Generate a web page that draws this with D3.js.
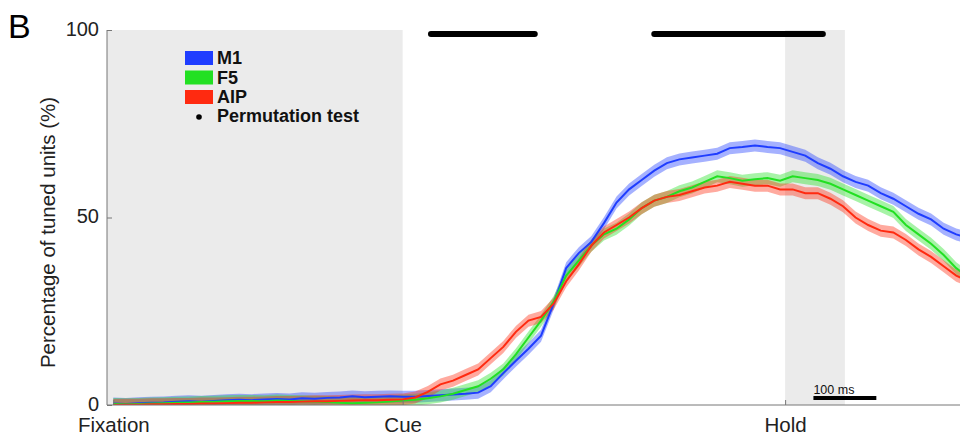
<!DOCTYPE html>
<html><head><meta charset="utf-8">
<script src="https://cdn.jsdelivr.net/npm/d3@7"></script>
<style>body{margin:0;background:#fff}svg{display:block;font-family:"Liberation Sans",Arial,Helvetica,sans-serif}</style>
</head><body><svg id="c" width="960" height="436"></svg>
<script>
// time in ms, sampled every 20 ms from Fixation (0)
const times = d3.range(0, 1361, 20);
const m1 = [0.4,0.3,0.5,0.6,0.7,0.9,1.0,0.9,1.1,1.3,1.4,1.3,1.5,1.6,1.5,1.8,1.7,1.9,2.0,2.3,2.1,2.2,2.3,
  2.2,2.2,2.4,2.6,2.8,3.0,3.3,5.0,8.5,11.8,15.0,18.5,27,36.5,40.5,43.5,48.5,54,57.5,60,62.5,64.5,65.5,66,66.5,67,68.5,68.8,69.2,68.8,68.5,67.5,66.5,64.5,63,61,59.5,58.5,56.5,55,53,51,49.5,47,45.5,44.5];
const f5 = [0.3,0.2,0.3,0.4,0.5,0.6,0.7,0.8,0.9,1.0,1.1,1.1,1.0,1.2,1.1,1.0,0.9,0.8,0.6,0.5,0.6,0.7,0.9,
  1.2,1.4,1.8,2.3,3.0,4.0,5.0,7.0,9.5,13.5,18.0,22.5,27.5,34.5,38.5,42.5,45.5,47,49.5,52.5,54.5,55.5,57,58,59.5,61,60.5,59.8,60.2,60.5,59.8,61,60.5,60,59,57.5,56,54.5,53,51.5,48,45.5,43,40,36.5,34];
const aip = [0,0.1,0.1,0.2,0.2,0.3,0.3,0.4,0.4,0.5,0.6,0.6,0.7,0.8,0.8,0.9,1.0,1.0,1.1,1.2,1.3,1.3,1.4,
  1.5,2.0,3.5,5.5,6.5,8.0,9.5,12.5,15.5,19.5,22.5,23.5,27,33,37.5,42.5,46,48,50,52.5,54.5,55.5,56,57,58,58.5,59.5,59,58.5,58.5,57.5,57.5,56.5,56.5,55,53,50,48,46.5,46,44,41.5,39.5,37,34.5,33];
const semVals = [1.6, 1.6, 1.6];
const seriesNames = ["M1", "F5", "AIP"];
const seriesColors = ["#1f3dff", "#22e022", "#ff2a10"];
const eventNames = ["Fixation", "Cue", "Hold"];
const eventTimes = [0, 460, 1068];
const fixWindow = [-10, 460];
const holdWindow = [1068, 1163];
const sigBars = [[505, 670], [860, 1128]];
const scaleBar = [1113, 1213];
const yTicks = [0, 50, 100];

const svg = d3.select("#c");
const L = 107, R = 960, T = 30, B = 405;
const x = d3.scaleLinear().domain([-10, 1346]).range([L, R]);
const y = d3.scaleLinear().domain([0, 100]).range([B, T]);

svg.append("defs").append("clipPath").attr("id","clip").append("rect")
  .attr("x", L).attr("y", 0).attr("width", R - L).attr("height", B);

// shaded windows
[fixWindow, holdWindow].forEach(w => {
  svg.append("rect").attr("x", x(w[0])).attr("y", y(100))
    .attr("width", x(w[1]) - x(w[0])).attr("height", y(0) - y(100))
    .attr("fill", "#ebebeb");
});

const data = [m1, f5, aip];
const g = svg.append("g").attr("clip-path", "url(#clip)");
data.forEach((vals, i) => {
  const pts = times.map((t, j) => ({t, v: vals[j]}));
  g.append("path").datum(pts)
    .attr("d", d3.area().x(d => x(d.t)).y0(d => y(d.v - semVals[i])).y1(d => y(d.v + semVals[i])))
    .attr("fill", seriesColors[i]).attr("fill-opacity", 0.4);
});
data.forEach((vals, i) => {
  const pts = times.map((t, j) => ({t, v: vals[j]}));
  g.append("path").datum(pts)
    .attr("d", d3.line().x(d => x(d.t)).y(d => y(d.v)))
    .attr("fill", "none").attr("stroke", seriesColors[i]).attr("stroke-width", 2);
});

// significance bars
sigBars.forEach(b => {
  svg.append("line").attr("x1", x(b[0])).attr("x2", x(b[1])).attr("y1", 34).attr("y2", 34)
    .attr("stroke", "#000").attr("stroke-width", 6).attr("stroke-linecap", "round");
});

// axes
const yAxis = d3.axisLeft(y).tickValues(yTicks).tickSize(-5).tickPadding(8);
const ya = svg.append("g").attr("transform", `translate(${L},0)`).call(yAxis);
ya.select(".domain").attr("stroke", "#777").attr("d", `M0,${T}V${B}`);
ya.selectAll(".tick line").attr("stroke", "#777");
ya.selectAll("text").attr("font-size", 20).attr("fill", "#222").attr("font-family", "Liberation Sans, Arial")
  .attr("dy", "0.25em");

const xAxis = d3.axisBottom(x).tickValues(eventTimes).tickFormat((d, i) => eventNames[i]).tickSize(-5).tickPadding(13);
const xa = svg.append("g").attr("transform", `translate(0,${B})`).call(xAxis);
xa.select(".domain").attr("stroke", "#777").attr("d", `M${L},0H${R}`);
xa.selectAll(".tick line").attr("stroke", "#777");
xa.selectAll("text").attr("font-size", 20.5).attr("fill", "#222").attr("font-family", "Liberation Sans, Arial")
  .attr("dy", "0.66em");

// y label
svg.append("text").attr("transform", `translate(55,${(T + B) / 2 + 15}) rotate(-90)`)
  .attr("text-anchor", "middle").attr("font-size", 20.5).attr("fill", "#222")
  .text("Percentage of tuned units (%)");

// panel letter
svg.append("text").attr("x", 8).attr("y", 38).attr("font-size", 34).attr("fill", "#000").text("B");

// scale bar
svg.append("line").attr("x1", x(scaleBar[0])).attr("x2", x(scaleBar[1])).attr("y1", 398).attr("y2", 398)
  .attr("stroke", "#000").attr("stroke-width", 4);
svg.append("text").attr("x", x(scaleBar[0])).attr("y", 394).attr("font-size", 12.5).attr("fill", "#111").text("100 ms");

// legend
const lg = svg.append("g");
seriesNames.forEach((n, i) => {
  lg.append("rect").attr("x", 185).attr("y", 51 + i * 19.5).attr("width", 28).attr("height", 14)
    .attr("fill", seriesColors[i]);
  lg.append("text").attr("x", 217).attr("y", 64 + i * 19.5).attr("font-size", 18).attr("font-weight", "bold")
    .attr("fill", "#111").text(n);
});
lg.append("circle").attr("cx", 199).attr("cy", 117).attr("r", 2.8).attr("fill", "#000");
lg.append("text").attr("x", 217).attr("y", 122).attr("font-size", 18).attr("font-weight", "bold")
  .attr("fill", "#111").text("Permutation test");
</script></body></html>
